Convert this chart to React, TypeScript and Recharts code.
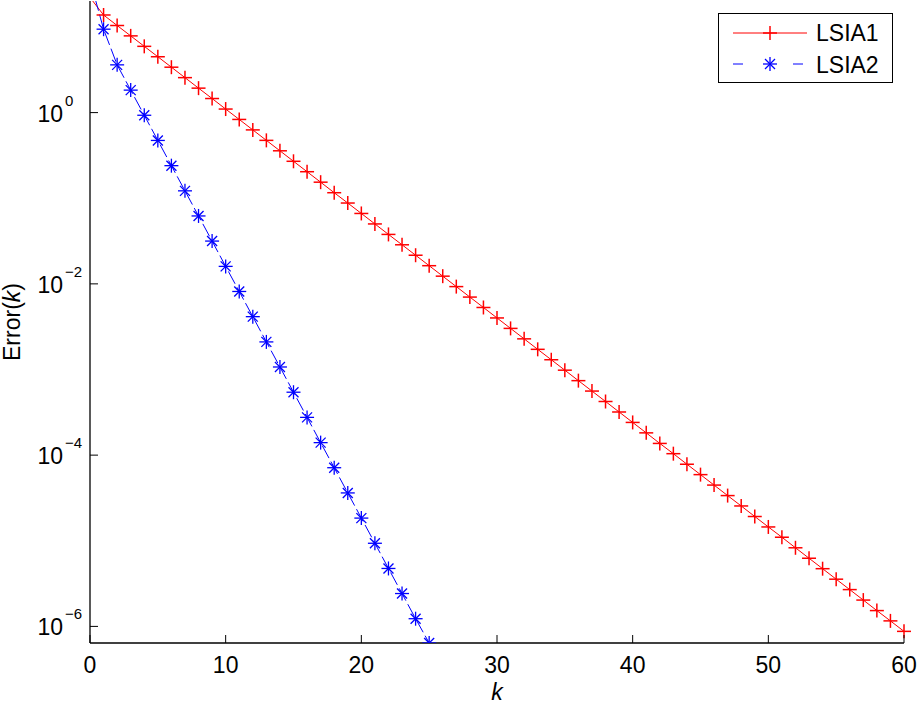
import React from 'react'
import { LineChart, Line, XAxis, YAxis, Legend, Label } from 'recharts'

// error per iteration k
const lsia1 = [
  22.1, 13.8, 10.4, 7.87, 5.94, 4.49, 3.39, 2.56, 1.93, 1.46,
  1.1, 0.832, 0.628, 0.474, 0.358, 0.27, 0.204, 0.154, 0.116, 0.0879,
  0.0664, 0.0501, 0.0378, 0.0286, 0.0216, 0.0163, 0.0123, 0.00929, 0.00701, 0.0053,
  0.004, 0.00302, 0.00228, 0.00172, 0.0013, 0.000982, 0.000741, 0.00056, 0.000423, 0.000319,
  0.000241, 0.000182, 0.000137, 0.000104, 7.83e-5, 5.92e-5, 4.47e-5, 3.37e-5, 2.55e-5, 1.92e-5,
  1.45e-5, 1.1e-5, 8.28e-6, 6.25e-6, 4.72e-6, 3.56e-6, 2.69e-6, 2.03e-6, 1.53e-6, 1.16e-6,
  8.75e-7,
]
const lsia2 = [
  35.5, 9.42, 3.61, 1.83, 0.931, 0.473, 0.24, 0.122, 0.0621, 0.0316,
  0.016, 0.00815, 0.00414, 0.0021, 0.00107, 0.000543, 0.000276, 0.00014, 7.13e-5, 3.62e-5,
  1.84e-5, 9.35e-6, 4.75e-6, 2.42e-6, 1.23e-6, 6.4e-7,
]
const xTicks = [0, 10, 20, 30, 40, 50, 60]
const yTicks = [1e-6, 1e-4, 1e-2, 1]
const yMin = 6.4e-7
const yMax = 20.1

const data = lsia1.map((v, k) => ({ k, a: v, b: lsia2[k] }))

const FONT = '"Liberation Sans", Arial, Helvetica, sans-serif'
const RED = '#ff0000'
const BLUE = '#0000ff'

const Plus = ({ cx, cy, value }: any) => {
  if (cx == null || cy == null || value == null || value > yMax) return null
  return (
    <g stroke={RED} strokeWidth={1.5}>
      <line x1={cx - 7} x2={cx + 7} y1={cy} y2={cy} />
      <line x1={cx} x2={cx} y1={cy - 7} y2={cy + 7} />
    </g>
  )
}

const Star = ({ cx, cy, value }: any) => {
  if (cx == null || cy == null || value == null || value > yMax) return null
  return (
    <g stroke={BLUE} strokeWidth={1.3}>
      <line x1={cx - 7} x2={cx + 7} y1={cy} y2={cy} />
      <line x1={cx} x2={cx} y1={cy - 7} y2={cy + 7} />
      <line x1={cx - 5} x2={cx + 5} y1={cy - 5} y2={cy + 5} />
      <line x1={cx - 5} x2={cx + 5} y1={cy + 5} y2={cy - 5} />
    </g>
  )
}

const XTickBottom = ({ x, y, payload }: any) => (
  <g>
    <line x1={x} x2={x} y1={y} y2={y - 8} stroke="#000" strokeWidth={1} />
    <text x={x} y={y + 30} textAnchor="middle" fontSize={23} fontFamily={FONT} fill="#000">
      {payload.value}
    </text>
  </g>
)

const XTickTop = ({ x, y }: any) => (
  <line x1={x} x2={x} y1={y} y2={y + 8} stroke="#000" strokeWidth={1} />
)

const YTickLeft = ({ x, y, payload }: any) => {
  const e = Math.round(Math.log10(payload.value))
  return (
    <g fontFamily={FONT} fill="#000">
      <line x1={x} x2={x + 8} y1={y} y2={y} stroke="#000" strokeWidth={1} />
      <text x={x - 27} y={y + 9} textAnchor="end" fontSize={23}>10</text>
      <text x={x - 25} y={y - 7} fontSize={15}>{e < 0 ? '\u2212' + -e : e}</text>
    </g>
  )
}

const YTickRight = ({ x, y }: any) => (
  <line x1={x} x2={x - 8} y1={y} y2={y} stroke="#000" strokeWidth={1} />
)

const renderLegend = () => (
  <div style={{ width: 175, height: 70, boxSizing: 'border-box', border: '1.3px solid #000', background: '#fff' }}>
    <svg width={173} height={68} style={{ display: 'block' }}>
      <line x1={14} x2={88} y1={19} y2={19} stroke={RED} strokeWidth={1} />
      <Plus cx={51} cy={19} value={1} />
      <text x={97} y={26.5} fontSize={23} fontFamily={FONT}>LSIA1</text>
      <line x1={14} x2={88} y1={50} y2={50} stroke={BLUE} strokeWidth={1} strokeDasharray="10 50" />
      <Star cx={51} cy={50} value={1} />
      <text x={97} y={58.5} fontSize={23} fontFamily={FONT}>LSIA2</text>
    </svg>
  </div>
)

export default function App() {
  return (
    <div style={{ position: 'absolute', left: 0, top: 0, width: 918, height: 704, background: '#fff' }}>
      <LineChart width={918} height={704} data={data} margin={{ top: 1, right: 14, bottom: 0, left: 0 }}>
        <XAxis
          dataKey="k"
          type="number"
          domain={[0, 60]}
          ticks={xTicks}
          height={61}
          tickSize={0}
          tickMargin={0}
          tickLine={false}
          tick={<XTickBottom />}
          axisLine={{ stroke: '#000', strokeWidth: 1.3 }}
          interval={0}
        >
          <Label
            content={({ viewBox }: any) => (
              <text
                x={viewBox.x + viewBox.width / 2}
                y={viewBox.y + 57}
                textAnchor="middle"
                fontSize={23}
                fontStyle="italic"
                fontFamily={FONT}
              >
                k
              </text>
            )}
          />
        </XAxis>
        <XAxis
          xAxisId="top"
          orientation="top"
          dataKey="k"
          type="number"
          domain={[0, 60]}
          ticks={xTicks}
          height={0}
          tickSize={0}
          tickMargin={0}
          tickLine={false}
          tick={<XTickTop />}
          axisLine={{ stroke: '#000', strokeWidth: 1.3 }}
          interval={0}
        />
        <YAxis
          scale="log"
          type="number"
          domain={[yMin, yMax]}
          allowDataOverflow
          ticks={yTicks}
          width={90}
          tickSize={0}
          tickMargin={0}
          tickLine={false}
          tick={<YTickLeft />}
          axisLine={{ stroke: '#000', strokeWidth: 1.3 }}
          interval={0}
        >
          <Label
            content={({ viewBox }: any) => {
              const cy = viewBox.y + viewBox.height / 2
              return (
                <text
                  x={20}
                  y={cy}
                  transform={`rotate(-90 20 ${cy})`}
                  textAnchor="middle"
                  fontSize={23}
                  fontFamily={FONT}
                >
                  Error(<tspan fontStyle="italic">k</tspan>)
                </text>
              )
            }}
          />
        </YAxis>
        <YAxis
          yAxisId="right"
          orientation="right"
          scale="log"
          type="number"
          domain={[yMin, yMax]}
          allowDataOverflow
          ticks={yTicks}
          width={0}
          tickSize={0}
          tickMargin={0}
          tickLine={false}
          tick={<YTickRight />}
          axisLine={{ stroke: '#000', strokeWidth: 1.3 }}
          interval={0}
        />
        <Legend
          content={renderLegend}
          layout="vertical"
          align="center"
          verticalAlign="middle"
          wrapperStyle={{ left: 718, top: 13, width: 175, height: 70 }}
        />
        <Line
          dataKey="a"
          name="LSIA1"
          stroke={RED}
          strokeWidth={1}
          dot={<Plus r={8} strokeWidth={2} />}
          activeDot={false}
          isAnimationActive={false}
        />
        <Line
          dataKey="b"
          name="LSIA2"
          stroke={BLUE}
          strokeWidth={1}
          strokeDasharray="14 4"
          dot={<Star r={8} strokeWidth={2} />}
          activeDot={false}
          isAnimationActive={false}
        />
      </LineChart>
    </div>
  )
}
